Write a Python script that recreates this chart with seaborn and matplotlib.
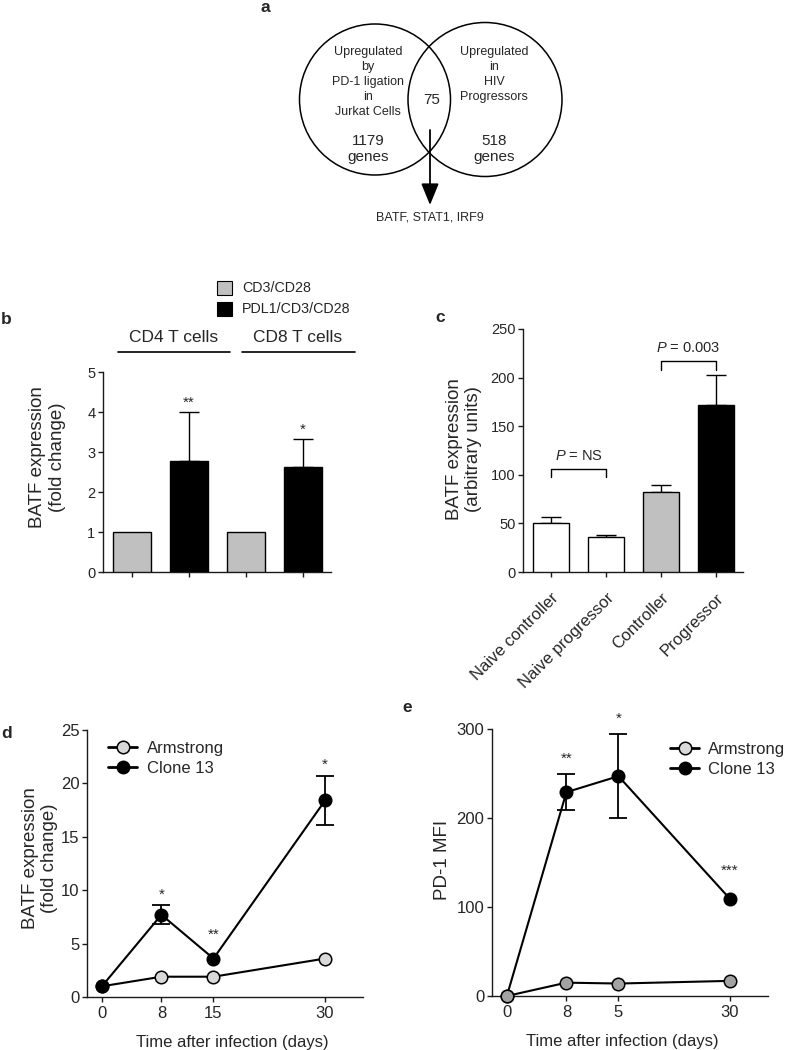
import matplotlib
matplotlib.use("Agg")
import matplotlib.pyplot as plt
import numpy as np
import pandas as pd
import seaborn as sns
from matplotlib.patches import Circle, Rectangle
from matplotlib.lines import Line2D

# ---- data ----
venn_left_lines = ["Upregulated", "by", "PD-1 ligation", "in", "Jurkat Cells"]
venn_right_lines = ["Upregulated", "in", "HIV", "Progressors"]
venn_left_count = "1179\ngenes"
venn_right_count = "518\ngenes"
venn_overlap = "75"
venn_genes = "BATF, STAT1, IRF9"

b_bars = ["CD4 ctrl", "CD4 PDL1", "CD8 ctrl", "CD8 PDL1"]
b_condition = ["CD3/CD28", "PDL1/CD3/CD28", "CD3/CD28", "PDL1/CD3/CD28"]
b_groups = ["CD4 T cells", "CD8 T cells"]
b_means = [1.0, 2.78, 1.0, 2.63]
b_err = [0.0, 1.22, 0.0, 0.70]
b_stars = ["", "**", "", "*"]

c_groups = ["Naive controller", "Naive progressor", "Controller", "Progressor"]
c_means = [50, 36, 82, 172]
c_err = [7, 2.5, 7, 31]

days = [0, 8, 15, 30]
d_armstrong = [1.0, 1.9, 1.9, 3.6]
d_clone13 = [1.0, 7.7, 3.6, 18.4]
d_clone13_err = [0.0, 0.9, 0.0, 2.3]
d_stars = ["", "*", "**", "*"]

e_armstrong = [0, 15, 14, 17]
e_clone13 = [0, 229, 247, 109]
e_clone13_err = [0, 20, 47, 0]
e_stars = ["", "**", "*", "***"]
e_ticklabels = ["0", "8", "5", "30"]

# ---- style ----
sns.set_theme(style="ticks")
plt.rcParams["font.family"] = ["Liberation Sans", "DejaVu Sans"]
plt.rcParams["mathtext.fontset"] = "custom"
plt.rcParams["mathtext.it"] = "Liberation Sans:italic"
plt.rcParams["mathtext.rm"] = "Liberation Sans"

W, H = 785, 1050
fig = plt.figure(figsize=(W / 100, H / 100), dpi=100)

spine_col = "#1a1a1a"
grey_bar = "#c0c0c0"
light_grey = "#d9d9d9"


def px_axes(x0, y0, x1, y1):
    # axes rectangle from pixel box (top-left origin)
    return fig.add_axes([x0 / W, 1 - y1 / H, (x1 - x0) / W, (y1 - y0) / H])


def style_axes(ax, fs):
    sns.despine(ax=ax)
    for s in ["left", "bottom"]:
        ax.spines[s].set_color(spine_col)
        ax.spines[s].set_linewidth(1.0)
    ax.tick_params(axis="both", length=3.5, width=1.0, color=spine_col,
                   labelsize=fs, pad=2, direction="out")


# overlay for annotations
ov = fig.add_axes([0, 0, 1, 1], zorder=-1)
ov.set_xlim(0, W)
ov.set_ylim(H, 0)
ov.axis("off")

# ---- panel a: venn ----
ov.add_patch(Circle((375, 99.5), 75.5, fill=False, lw=1.1, ec="black"))
ov.add_patch(Circle((485, 99.5), 77, fill=False, lw=1.1, ec="black"))
for i, t in enumerate(venn_left_lines):
    ov.text(368, 52 + i * 15, t, ha="center", va="center", fontsize=9)
for i, t in enumerate(venn_right_lines):
    ov.text(494, 52 + i * 15, t, ha="center", va="center", fontsize=9)
ov.text(368, 149, venn_left_count, ha="center", va="center", fontsize=11, linespacing=1.15)
ov.text(494, 149, venn_right_count, ha="center", va="center", fontsize=11, linespacing=1.15)
ov.text(432, 100, venn_overlap, ha="center", va="center", fontsize=11)
ov.annotate("", xy=(430, 205), xytext=(430, 130),
            arrowprops=dict(arrowstyle="-|>,head_length=1.1,head_width=0.45",
                            color="black", lw=1.3, shrinkA=0, shrinkB=0))
ov.text(430, 218, venn_genes, ha="center", va="center", fontsize=9)

# panel letters
for lab, (x, y) in {"a": (265, 7), "b": (1, 319), "c": (440, 318),
                    "d": (1, 733), "e": (407, 708)}.items():
    ov.text(x, y, lab, ha="left" if lab in "bd" else "center", va="center",
            fontsize=12.5, fontweight="bold")

# legend for b
ov.add_patch(Rectangle((217, 281), 15, 14, fc=grey_bar, ec="black", lw=0.8))
ov.add_patch(Rectangle((217, 302), 15, 14, fc="black", ec="black", lw=0.8))
ov.text(242, 288, "CD3/CD28", va="center", fontsize=10.3)
ov.text(242, 309, "PDL1/CD3/CD28", va="center", fontsize=10.3)

# group headers for b
for txt, xc, (l0, l1) in zip(b_groups, [174, 298], [(118, 230), (242, 355)]):
    ov.text(xc, 338, txt, ha="center", va="center", fontsize=12.5)
    ov.plot([l0, l1], [352, 352], color="black", lw=1.2)

# ---- panel b ----
axb = px_axes(103, 372, 331, 572)
df_b = pd.DataFrame({"bar": b_bars, "cond": b_condition, "val": b_means})
sns.barplot(data=df_b, x="bar", y="val", hue="cond", dodge=False,
            palette={"CD3/CD28": grey_bar, "PDL1/CD3/CD28": "black"},
            width=0.667, edgecolor="black", linewidth=1.0, legend=False,
            errorbar=None, ax=axb, zorder=3)
xb = np.arange(len(b_bars))
mb = np.array(b_err) > 0
axb.errorbar(xb[mb], np.array(b_means)[mb],
             yerr=[np.zeros(mb.sum()), np.array(b_err)[mb]],
             fmt="none", ecolor="black", elinewidth=1.0, capsize=7, capthick=1.0, zorder=2)
for x, m, e, s in zip(xb, b_means, b_err, b_stars):
    if s:
        axb.text(x, m + e + 0.22, s, ha="center", va="center", fontsize=11)
axb.set_xlim(-0.51, 3.49)
axb.set_ylim(0, 5)
axb.set_yticks(range(6))
axb.set_xticks(xb)
axb.set_xticklabels([])
axb.set_xlabel("")
style_axes(axb, 10.5)
axb.set_ylabel("BATF expression\n(fold change)", fontsize=13.5, va="center")
axb.yaxis.set_label_coords(-0.243, 0.575)

# ---- panel c ----
axc = px_axes(523, 329, 743, 572)
df_c = pd.DataFrame({"group": c_groups, "val": c_means})
sns.barplot(data=df_c, x="group", y="val", hue="group",
            palette=["white", "white", grey_bar, "black"],
            width=0.655, edgecolor="black", linewidth=1.0, legend=False,
            errorbar=None, ax=axc, zorder=3)
xc = np.arange(len(c_groups))
axc.errorbar(xc, c_means, yerr=[np.zeros(4), c_err], fmt="none", ecolor="black",
             elinewidth=1.0, capsize=7, capthick=1.0, zorder=2)
# significance brackets
for (i0, i1), top, drop, lab in [((0, 1), 106, 97.5, "$P$ = NS"),
                                  ((2, 3), 217, 208, "$P$ = 0.003")]:
    axc.plot([i0, i0, i1, i1], [drop, top, top, drop], color="black", lw=1.0,
             clip_on=False)
    axc.text((i0 + i1) / 2, top + 6, lab, ha="center", va="bottom", fontsize=10.5)
axc.set_xlim(-0.51, 3.49)
axc.set_ylim(0, 250)
axc.set_yticks(range(0, 251, 50))
axc.set_xlabel("")
style_axes(axc, 10.5)
axc.tick_params(axis="x", pad=9.5, labelsize=12)
axc.set_xticks(xc)
axc.set_xticklabels(c_groups, rotation=45, ha="right", va="top", rotation_mode="anchor")
axc.set_ylabel("BATF expression\n(arbitrary units)", fontsize=13.5, va="center")
axc.yaxis.set_label_coords(-0.268, 0.506)


# ---- panels d & e ----
def time_panel(ax, arm, clone, clone_err, stars, arm_fc, star_off, star_off2, arm_on_top):
    df_arm = pd.DataFrame({"day": days, "val": arm})
    df_cl = pd.DataFrame({"day": days, "val": clone})
    err = np.array(clone_err)
    m = err > 0
    ax.errorbar(np.array(days)[m], np.array(clone)[m], yerr=err[m], fmt="none",
                ecolor="black", elinewidth=1.3, capsize=6.5, capthick=1.3, zorder=2)
    kws = dict(x="day", y="val", color="black", marker="o", markersize=9,
               markeredgecolor="black", markeredgewidth=1.1, linewidth=1.5,
               clip_on=False, ax=ax)
    order = [("cl", df_cl), ("arm", df_arm)] if arm_on_top else [("arm", df_arm), ("cl", df_cl)]
    for k, (name, d) in enumerate(order):
        fc = "black" if name == "cl" else arm_fc
        sns.lineplot(data=d, markerfacecolor=fc, zorder=3 + k, **kws)
    for x, v, e, s in zip(days, clone, clone_err, stars):
        if s:
            ax.text(x, v + e + (star_off if e > 0 else star_off2), s,
                    ha="center", va="center", fontsize=11)
    ax.set_xlim(-2, 35.1)
    ax.set_xticks(days)
    style_axes(ax, 12)
    ax.tick_params(axis="x", pad=3)
    ax.set_xlabel("Time after infection (days)", fontsize=12, va="center")
    handles = [Line2D([], [], color="black", marker="o", markersize=9,
                      markerfacecolor=light_grey, markeredgecolor="black",
                      markeredgewidth=1.1, lw=2),
               Line2D([], [], color="black", marker="o", markersize=9,
                      markerfacecolor="black", markeredgecolor="black", lw=2)]
    return handles


axd = px_axes(87, 730, 363, 997)
hd = time_panel(axd, d_armstrong, d_clone13, d_clone13_err, d_stars, light_grey,
                1.0, 2.2, arm_on_top=False)
axd.set_ylim(0, 25)
axd.set_yticks(range(0, 26, 5))
axd.set_ylabel("BATF expression\n(fold change)", fontsize=13.5, va="center")
axd.yaxis.set_label_coords(-0.170, 0.52)
axd.xaxis.set_label_coords(0.525, -0.169)
axd.legend(hd, ["Armstrong", "Clone 13"], loc="upper left", frameon=False,
           fontsize=12, handlelength=1.75, handletextpad=0.6, labelspacing=0.3,
           borderpad=0, borderaxespad=0,
           bbox_to_anchor=(108 / W, 1 - 741 / H), bbox_transform=fig.transFigure)

axe = px_axes(492, 729, 768, 996)
he = time_panel(axe, e_armstrong, e_clone13, e_clone13_err, e_stars, "#a3a3a3",
                18, 32, arm_on_top=True)
axe.set_ylim(0, 300)
axe.set_yticks([0, 100, 200, 300])
axe.set_xticklabels(e_ticklabels)
axe.set_ylabel("PD-1 MFI", fontsize=13.5, va="center")
axe.yaxis.set_label_coords(-0.178, 0.51)
axe.xaxis.set_label_coords(0.471, -0.169)
axe.legend(he, ["Armstrong", "Clone 13"], loc="upper left", frameon=False,
           fontsize=12, handlelength=1.75, handletextpad=0.5, labelspacing=0.3,
           borderpad=0, borderaxespad=0,
           bbox_to_anchor=(670 / W, 1 - 742 / H), bbox_transform=fig.transFigure)

fig.savefig("out.png", dpi=100)
